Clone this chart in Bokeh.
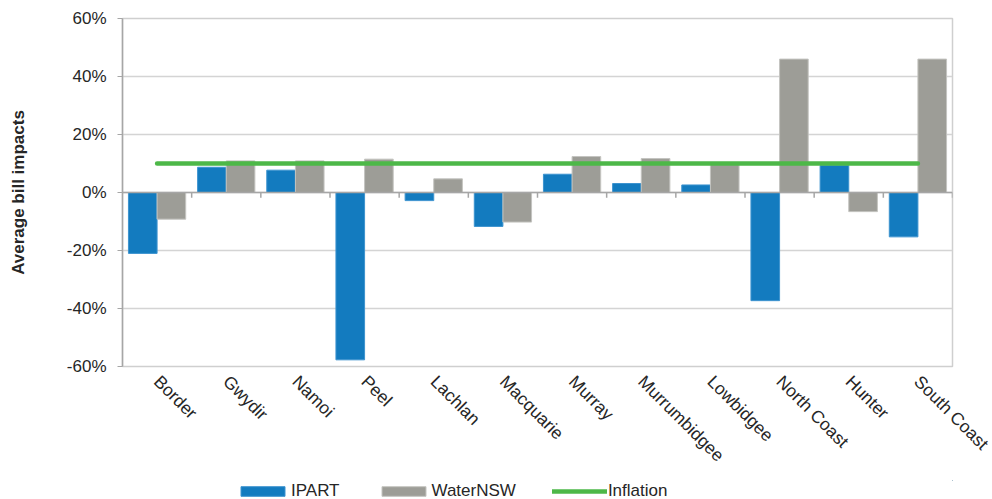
import math
from bokeh.plotting import figure
from bokeh.layouts import column
from bokeh.models import (ColumnDataSource, FactorRange, Legend, LegendItem, Span,
                          PrintfTickFormatter, FixedTicker, Range1d)
from bokeh.transform import dodge
from bokeh.embed import file_html
from bokeh.resources import INLINE

# ---- data ----
categories = ["Border", "Gwydir", "Namoi", "Peel", "Lachlan", "Macquarie", "Murray",
              "Murrumbidgee", "Lowbidgee", "North Coast", "Hunter", "South Coast"]
ipart = [-21.0, 8.7, 7.7, -57.7, -2.8, -11.7, 6.3, 3.1, 2.6, -37.3, 9.3, -15.3]
waternsw = [-9.2, 10.9, 10.9, 11.5, 4.7, -10.2, 12.4, 11.7, 9.6, 46.0, -6.6, 46.0]
inflation = [10.0] * len(categories)
y_ticks = [-60, -40, -20, 0, 20, 40, 60]
series_names = ["IPART", "WaterNSW", "Inflation"]

BLUE = "#137bbf"
GRAY = "#9d9d97"
GREEN = "#4db848"
FONT = "Liberation Sans"

src = ColumnDataSource(dict(cats=categories, ipart=ipart, waternsw=waternsw,
                            inflation=inflation, zero=[0] * len(categories),
                            tick_end=[-1.8] * len(categories)))

p = figure(x_range=FactorRange(*categories), y_range=(-60, 60),
           width=992, height=480, output_backend="svg", toolbar_location=None,
           min_border_left=122, min_border_right=40, min_border_top=18,
           min_border_bottom=114)

p.outline_line_color = "#cfcfcf"
p.outline_line_width = 1.5
p.xgrid.grid_line_color = None
p.ygrid.grid_line_color = "#d4d4d4"
p.ygrid.grid_line_width = 1.5
p.yaxis.ticker = FixedTicker(ticks=y_ticks)
p.yaxis.formatter = PrintfTickFormatter(format="%d%%")
p.yaxis.axis_label = "Average bill impacts"
p.yaxis.axis_label_text_font = FONT
p.yaxis.axis_label_text_font_style = "bold"
p.yaxis.axis_label_text_font_size = "17px"
p.yaxis.axis_label_text_color = "#262626"
p.yaxis.axis_label_standoff = 36
p.yaxis.major_label_text_font = FONT
p.yaxis.major_label_text_font_size = "17px"
p.yaxis.major_label_text_color = "#262626"
p.yaxis.major_label_standoff = 11
p.yaxis.axis_line_color = "#a6a6a6"
p.yaxis.axis_line_width = 1.5
p.yaxis.major_tick_line_color = "#a6a6a6"
p.yaxis.major_tick_out = 5
p.yaxis.major_tick_in = 0
p.yaxis.minor_tick_line_color = None

p.xaxis.axis_line_color = None
p.xaxis.major_tick_line_color = None
p.xaxis.minor_tick_line_color = None
p.xaxis.major_label_orientation = -math.pi / 4
p.xaxis.major_label_text_font = FONT
p.xaxis.major_label_text_font_size = "17.5px"
p.xaxis.major_label_text_color = "#262626"
p.xaxis.major_label_standoff = 6

bw = 0.414
p.vbar(x=dodge("cats", -0.207, range=p.x_range), top="ipart", bottom=0, width=bw,
       source=src, fill_color=BLUE, line_color="#3d93cf", line_width=1)
p.vbar(x=dodge("cats", 0.207, range=p.x_range), top="waternsw", bottom=0, width=bw,
       source=src, fill_color=GRAY, line_color="#c4c4c0", line_width=1)

zero = Span(location=0, dimension="width", line_color="#a6a6a6", line_width=1.5)
p.add_layout(zero)
p.segment(x0=dodge("cats", 0.5, range=p.x_range), y0="zero",
          x1=dodge("cats", 0.5, range=p.x_range), y1="tick_end",
          source=src, line_color="#a6a6a6", line_width=1.5)

p.line(x="cats", y="inflation", source=src, line_color=GREEN, line_width=4.5,
       line_cap="round")

# ---- legend strip below the chart (swatch glyphs sit outside its visible range) ----
lg = figure(width=992, height=19, output_backend="svg", toolbar_location=None,
            x_range=Range1d(0, 1), y_range=Range1d(0, 1),
            min_border=0, min_border_left=0, min_border_right=0,
            min_border_top=0, min_border_bottom=0)
lg.axis.visible = False
lg.grid.visible = False
lg.outline_line_color = None
swatch = ColumnDataSource(dict(x=[5, 6], y=[5, 5]))
g1 = lg.vbar(x="x", top="y", bottom=4, width=0.1, source=swatch,
             fill_color=BLUE, line_color="#3d93cf")
g2 = lg.vbar(x="x", top="y", bottom=4, width=0.1, source=swatch,
             fill_color=GRAY, line_color="#c4c4c0")
g3 = lg.line(x="x", y="y", source=swatch, line_color=GREEN, line_width=4.5,
             line_cap="round")

legend = Legend(items=[LegendItem(label=series_names[0], renderers=[g1]),
                       LegendItem(label=series_names[1], renderers=[g2]),
                       LegendItem(label=series_names[2], renderers=[g3])],
                orientation="horizontal", location=(113, -2),
                glyph_width=55, glyph_height=12, label_standoff=1, spacing=36,
                padding=0, margin=0, border_line_color=None,
                background_fill_alpha=0,
                label_text_font=FONT, label_text_font_size="17px",
                label_text_color="#262626")
lg.add_layout(legend)

open("out.html", "w").write(file_html(column(p, lg, spacing=0), INLINE))
